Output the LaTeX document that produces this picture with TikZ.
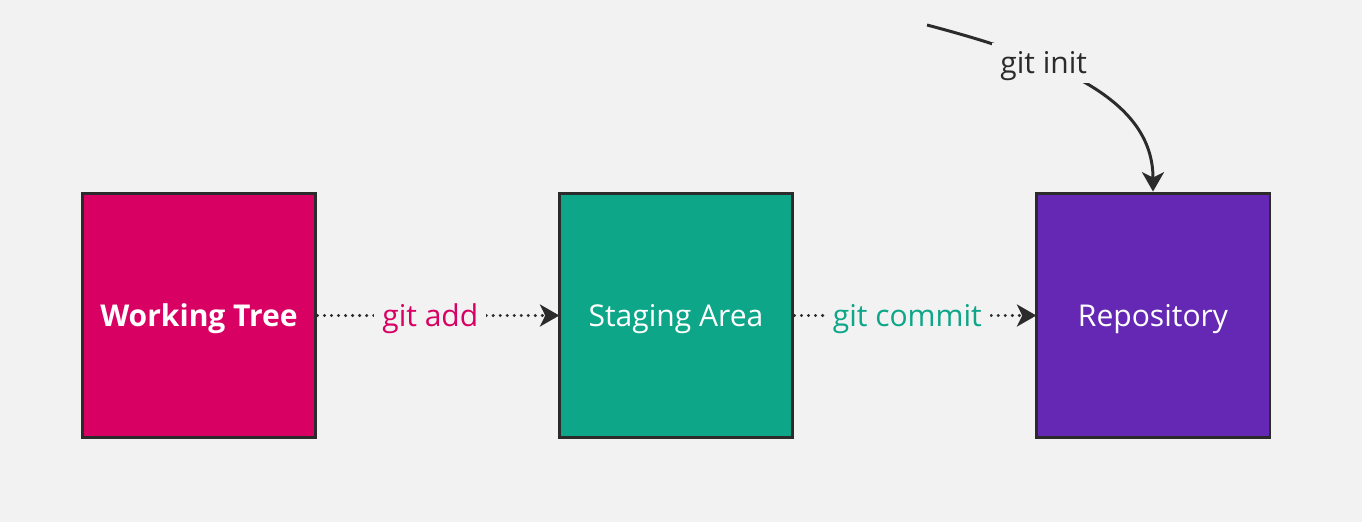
\documentclass[tikz,border=0pt]{standalone}
\usepackage{fontspec}
\setmainfont{Open Sans}
\usetikzlibrary{arrows.meta}
\definecolor{bg}{HTML}{F2F2F2}
\definecolor{ink}{HTML}{2B2B2B}
\definecolor{wtree}{HTML}{D80063}
\definecolor{stage}{HTML}{0DA688}
\definecolor{repo}{HTML}{6528B4}
\tikzset{ box/.style = { rectangle
                       , draw         = ink
                       , line width   = 1.7pt
                       , minimum width  = 4.68cm
                       , minimum height = 4.9cm
                       , text         = white
                       , text depth   = 0pt
                       , font         = \fontsize{17.1}{20}\selectfont
                       },
          cmd/.style = { fill         = bg
                       , inner sep    = 4.5pt
                       , text depth   = 0pt
                       , font         = \fontsize{17.1}{20}\selectfont
                       },
          dots/.style = { draw = ink
                        , line width   = 1.9pt
                        , line cap     = round
                        , dash pattern = on 0pt off 4pt
                        , -{Stealth[length=11pt, width=12.5pt, line cap=butt, inset=3pt, sep=-1pt]}
                        }
        }
\begin{document}
\begin{tikzpicture}[x=0.02cm, y=-0.02cm]
            \fill[bg] (0,0) rectangle (1362,522);
            \useasboundingbox (0,0) rectangle (1362,522);
            \node[box, fill=wtree] (wt) at (199,315.5) {\textbf{Working Tree}};
            \node[box, fill=stage] (sa) at (676,315.5) {Staging Area};
            \node[box, fill=repo]  (rp) at (1153,315.5) {Repository};
            % dotted commands between the areas
            \path[dots] (wt.east) -- (sa.west)
                node[cmd, text=wtree, pos=0.47] (add) {git add};
            \path[dots] (sa.east) -- (rp.west)
                node[cmd, text=stage, pos=0.47] (commit) {git commit};
            % curved init arrow
            \coordinate (top) at (927,25);
            \draw[ink, line width=1.7pt, -{Stealth[length=11pt, width=12.5pt, inset=3pt]}]
                (top) .. controls (1060,60) and (1153,100) .. (rp.north)
                node[cmd, text=ink, pos=0.33, inner sep=5pt] (init) {git init};
\end{tikzpicture}
\end{document}
